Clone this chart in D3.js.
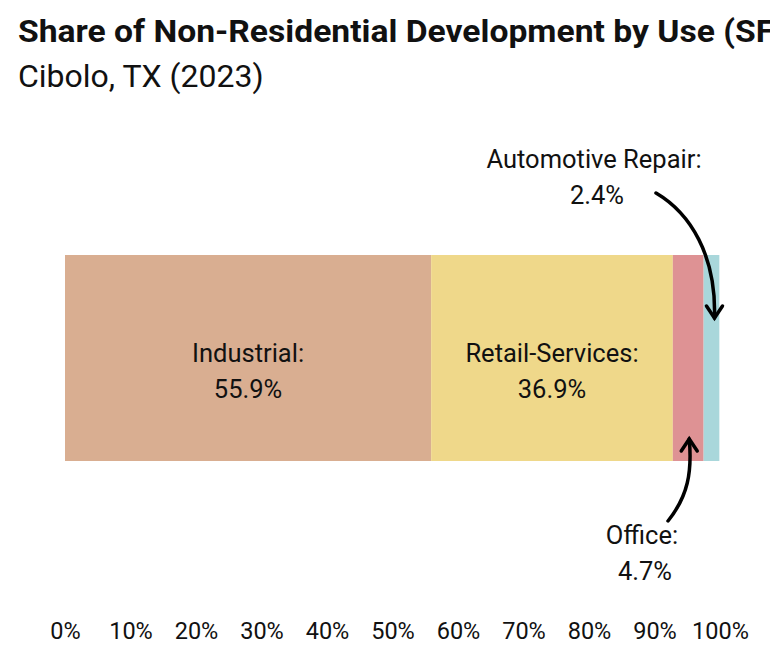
<!DOCTYPE html>
<html>

<head>
  <title>non-residential share</title>
  <script src="https://d3js.org/d3.v7.min.js"></script>
  <style>
    body { margin: 0; background: #fff; }
    svg { font-family: Roboto, "Noto Sans", sans-serif; }
  </style>
</head>

<body>
  <div id="chart"></div>

  <script type="text/javascript">
    var categories = ["Industrial", "Retail-Services", "Office", "Automotive Repair"]
    var shares = [55.9, 36.9, 4.7, 2.4]
    var colors = ["#D9AE91", "#EFD88A", "#DE9294", "#A9D7DB"]
    var ticks = [0, 10, 20, 30, 40, 50, 60, 70, 80, 90, 100]

    var width = 770, height = 660
    var svg = d3.select("#chart").append("svg").attr("width", width).attr("height", height)

    svg.append("text").attr("x", 18).attr("y", 42)
      .attr("font-size", 31).attr("font-weight", 700).attr("fill", "#111")
      .attr("textLength", 768).attr("lengthAdjust", "spacingAndGlyphs")
      .text("Share of Non-Residential Development by Use (SF)")
    svg.append("text").attr("x", 18).attr("y", 87)
      .attr("font-size", 32).attr("fill", "#111")
      .text("Cibolo, TX (2023)")

    var x = d3.scaleLinear().domain([0, 100]).range([65, 720])
    var y = d3.scaleBand().domain(["2023"]).range([255, 461])

    // stacked segments
    var stack = []
    var acc = 0
    shares.forEach((v, i) => {
      stack.push({ name: categories[i], value: v, x0: acc, x1: acc + v, color: colors[i] })
      acc += v
    })

    svg.selectAll("rect.seg")
      .data(stack)
      .enter()
      .append("rect")
      .attr("class", "seg")
      .attr("x", d => x(d.x0))
      .attr("y", y("2023"))
      .attr("width", d => x(d.x1) - x(d.x0))
      .attr("height", y.bandwidth())
      .attr("fill", d => d.color)

    // inside labels for the two big ones
    var mid = y("2023") + y.bandwidth() / 2
    stack.slice(0, 2).forEach(d => {
      var t = svg.append("text").attr("text-anchor", "middle").attr("font-size", 25.5).attr("fill", "#111")
      t.append("tspan").attr("x", x((d.x0 + d.x1) / 2)).attr("y", mid + 4).text(d.name + ":")
      t.append("tspan").attr("x", x((d.x0 + d.x1) / 2)).attr("y", mid + 40).text(d.value + "%")
    })

    // outside labels with arrows
    var office = stack[2], auto = stack[3]
    function outLabel(d, cx, top) {
      var t = svg.append("text").attr("text-anchor", "middle").attr("font-size", 25.5).attr("fill", "#111")
      t.append("tspan").attr("x", cx).attr("y", top).text(d.name + ":")
      t.append("tspan").attr("x", cx + 3).attr("y", top + 36).text(d.value + "%")
    }
    outLabel(auto, 594, 168)
    outLabel(office, 642, 544)

    function arrowHead(tx, ty, dir) {
      svg.append("path")
        .attr("d", "M" + (tx - 8) + "," + (ty - 12 * dir) + " L" + tx + "," + ty + " L" + (tx + 8) + "," + (ty - 12 * dir))
        .attr("fill", "none").attr("stroke", "#000").attr("stroke-width", 3.5)
        .attr("stroke-linejoin", "miter").attr("stroke-linecap", "round")
    }
    var autoX = x((auto.x0 + auto.x1) / 2) + 3
    svg.append("path")
      .attr("d", "M656,193 C690,213 " + (autoX + 2) + ",255 " + autoX + ",318")
      .attr("fill", "none").attr("stroke", "#000").attr("stroke-width", 3.5).attr("stroke-linecap", "round")
    arrowHead(autoX, 318, 1)

    var officeX = x((office.x0 + office.x1) / 2) + 1
    svg.append("path")
      .attr("d", "M668,521 C688,496 " + (officeX + 3) + ",472 " + officeX + ",439")
      .attr("fill", "none").attr("stroke", "#000").attr("stroke-width", 3.5).attr("stroke-linecap", "round")
    arrowHead(officeX, 439, -1)

    // axis: labels only
    var axis = svg.append("g").attr("transform", "translate(0,614)")
      .call(d3.axisBottom(x).tickValues(ticks).tickFormat(d => d + "%").tickSize(0).tickPadding(8))
    axis.select(".domain").remove()
    axis.selectAll("text").attr("font-size", 23.5).attr("fill", "#111").attr("font-family", "Roboto")
  </script>

</body>

</html>
